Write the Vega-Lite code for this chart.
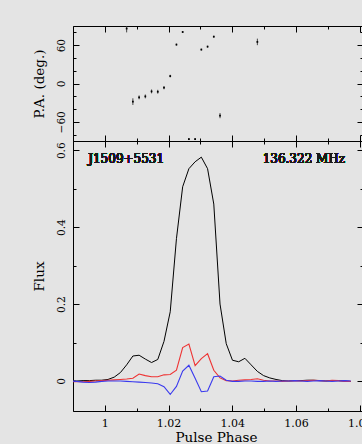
{
  "$schema": "https://vega.github.io/schema/vega-lite/v6.json",
  "background": "#e4e4e4",
  "padding": {"left": 31, "top": 25, "right": 0, "bottom": 0},
  "spacing": 0,
  "bounds": "flush",
  "config": {
    "view": {"stroke": "black", "strokeWidth": 1},
    "font": "DejaVu Serif",
    "axis": {
      "domain": false, "grid": false, "tickColor": "black", "tickWidth": 1,
      "labelColor": "black", "titleColor": "black",
      "labelFont": "DejaVu Serif", "titleFont": "DejaVu Serif",
      "titleFontWeight": "normal", "titleFontSize": 13.5,
      "labelOverlap": false, "labelFlush": false, "labelBound": false
    }
  },
  "datasets": {
    "pa": [
      {"p": 1.006836, "pa": 86, "lo": 80, "hi": 92},
      {"p": 1.008789, "pa": -28.4, "lo": -33.6, "hi": -23.2},
      {"p": 1.010742, "pa": -21.7, "lo": -24.7, "hi": -18.7},
      {"p": 1.012695, "pa": -20.2, "lo": -23.2, "hi": -17.2},
      {"p": 1.014648, "pa": -12.4, "lo": -15.4, "hi": -9.4},
      {"p": 1.016602, "pa": -12.9, "lo": -15.9, "hi": -9.9},
      {"p": 1.018555, "pa": -6.6, "lo": -9, "hi": -4.2},
      {"p": 1.020508, "pa": 11.6, "lo": 9.6, "hi": 13.6},
      {"p": 1.022461, "pa": 60.9, "lo": 59.4, "hi": 62.4},
      {"p": 1.024414, "pa": 80.6, "lo": 79.1, "hi": 82.1},
      {"p": 1.026367, "pa": -87, "lo": -88.5, "hi": -85.5},
      {"p": 1.02832, "pa": -87, "lo": -88.5, "hi": -85.5},
      {"p": 1.030273, "pa": 53.1, "lo": 51.6, "hi": 54.6},
      {"p": 1.032227, "pa": 57.7, "lo": 56.2, "hi": 59.2},
      {"p": 1.03418, "pa": 73.3, "lo": 71.8, "hi": 74.8},
      {"p": 1.036133, "pa": -50.3, "lo": -54.3, "hi": -46.3},
      {"p": 1.047852, "pa": 65.1, "lo": 60, "hi": 70.2}
    ],
    "prof": [
      {"p": 0.989258, "I": 0.001, "L": -0.002, "V": 0.0},
      {"p": 0.991211, "I": 0.0, "L": -0.002, "V": -0.001},
      {"p": 0.993164, "I": 0.001, "L": -0.002, "V": -0.003},
      {"p": 0.995117, "I": 0.001, "L": -0.001, "V": -0.004},
      {"p": 0.99707, "I": 0.002, "L": 0.0, "V": -0.003},
      {"p": 0.999023, "I": 0.002, "L": 0.001, "V": -0.001},
      {"p": 1.000977, "I": 0.004, "L": 0.002, "V": 0.0},
      {"p": 1.00293, "I": 0.010, "L": 0.003, "V": 0.0},
      {"p": 1.004883, "I": 0.022, "L": 0.004, "V": 0.0},
      {"p": 1.006836, "I": 0.042, "L": 0.005, "V": -0.001},
      {"p": 1.008789, "I": 0.065, "L": 0.007, "V": -0.002},
      {"p": 1.010742, "I": 0.067, "L": 0.018, "V": -0.003},
      {"p": 1.012695, "I": 0.057, "L": 0.014, "V": -0.004},
      {"p": 1.014648, "I": 0.048, "L": 0.011, "V": -0.005},
      {"p": 1.016602, "I": 0.056, "L": 0.011, "V": -0.007},
      {"p": 1.018555, "I": 0.103, "L": 0.016, "V": -0.015},
      {"p": 1.020508, "I": 0.18, "L": 0.017, "V": -0.035},
      {"p": 1.022461, "I": 0.37, "L": 0.028, "V": -0.014},
      {"p": 1.024414, "I": 0.505, "L": 0.087, "V": 0.026},
      {"p": 1.026367, "I": 0.552, "L": 0.096, "V": 0.041},
      {"p": 1.02832, "I": 0.57, "L": 0.040, "V": 0.007},
      {"p": 1.030273, "I": 0.582, "L": 0.058, "V": -0.028},
      {"p": 1.032227, "I": 0.552, "L": 0.071, "V": -0.026},
      {"p": 1.03418, "I": 0.46, "L": 0.028, "V": 0.011},
      {"p": 1.036133, "I": 0.20, "L": 0.008, "V": 0.013},
      {"p": 1.038086, "I": 0.097, "L": 0.001, "V": 0.002},
      {"p": 1.040039, "I": 0.054, "L": 0.0, "V": -0.001},
      {"p": 1.041992, "I": 0.050, "L": 0.002, "V": -0.001},
      {"p": 1.043945, "I": 0.059, "L": 0.003, "V": 0.0},
      {"p": 1.045898, "I": 0.042, "L": 0.004, "V": 0.0},
      {"p": 1.047852, "I": 0.025, "L": 0.006, "V": -0.001},
      {"p": 1.049805, "I": 0.014, "L": 0.002, "V": -0.001},
      {"p": 1.051758, "I": 0.008, "L": 0.0, "V": 0.0},
      {"p": 1.053711, "I": 0.004, "L": 0.0, "V": -0.001},
      {"p": 1.055664, "I": 0.001, "L": -0.001, "V": 0.0},
      {"p": 1.057617, "I": 0.0, "L": 0.0, "V": 0.0},
      {"p": 1.05957, "I": 0.001, "L": 0.001, "V": 0.001},
      {"p": 1.061523, "I": 0.001, "L": 0.0, "V": 0.0},
      {"p": 1.063477, "I": 0.002, "L": 0.001, "V": -0.001},
      {"p": 1.06543, "I": 0.002, "L": 0.002, "V": 0.0},
      {"p": 1.067383, "I": 0.001, "L": 0.001, "V": 0.001},
      {"p": 1.069336, "I": 0.0, "L": 0.0, "V": 0.0},
      {"p": 1.071289, "I": 0.001, "L": 0.002, "V": -0.001},
      {"p": 1.073242, "I": 0.001, "L": 0.001, "V": 0.0},
      {"p": 1.075195, "I": 0.0, "L": -0.001, "V": 0.001},
      {"p": 1.077148, "I": -0.001, "L": -0.001, "V": 0.0}
    ]
  },
  "vconcat": [
    {
      "width": 290, "height": 115,
      "data": {"name": "pa"},
      "layer": [
        {
          "mark": {"type": "rule", "color": "#333333", "strokeWidth": 0.9, "clip": true},
          "encoding": {
            "x": {"field": "p", "type": "quantitative",
              "scale": {"domain": [0.99, 1.081], "nice": false, "zero": false},
              "axis": {"orient": "bottom", "values": [0.99,1.0,1.01,1.02,1.03,1.04,1.05,1.06,1.07,1.08],
                "tickSize": {"condition": {"test": "round(datum.value*100)%2==0", "value": -6}, "value": -3},
                "labels": false, "title": null}},
            "y": {"field": "lo", "type": "quantitative",
              "scale": {"domain": [-90, 90], "nice": false, "zero": false},
              "axis": {"orient": "left", "values": [-80,-60,-40,-20,0,20,40,60,80],
                "tickSize": {"condition": {"test": "datum.value%60==0", "value": -6}, "value": -3},
                "labelExpr": "datum.value%60==0 ? format(datum.value,'~g') : ''",
                "labelAngle": 270, "labelAlign": "center", "labelBaseline": "alphabetic",
                "labelPadding": 14.3, "labelFontSize": 10.5,
                "title": "P.A. (deg.)", "titleAngle": 270, "titleX": -34, "titleY": 57.5,
                "titleAlign": "center", "titleBaseline": "middle"}},
            "y2": {"field": "hi"}
          }
        },
        {
          "mark": {"type": "point", "shape": "square", "size": 3, "filled": true, "color": "black", "opacity": 1, "clip": true},
          "encoding": {
            "x": {"field": "p", "type": "quantitative",
              "scale": {"domain": [0.99, 1.081], "nice": false, "zero": false},
              "axis": {"orient": "top", "values": [0.99,1.0,1.01,1.02,1.03,1.04,1.05,1.06,1.07,1.08],
                "tickSize": {"condition": {"test": "round(datum.value*100)%2==0", "value": -6}, "value": -3},
                "labels": false, "title": null}},
            "y": {"field": "pa", "type": "quantitative",
              "scale": {"domain": [-90, 90], "nice": false, "zero": false},
              "axis": {"orient": "right", "values": [-80,-60,-40,-20,0,20,40,60,80],
                "tickSize": {"condition": {"test": "datum.value%60==0", "value": -6}, "value": -3},
                "labels": false, "title": null}}
          }
        }
      ],
      "resolve": {"axis": {"x": "independent", "y": "independent"}}
    },
    {
      "width": 290, "height": 270,
      "data": {"name": "prof"},
      "layer": [
        {
          "mark": {"type": "line", "color": "black", "strokeWidth": 1, "clip": true},
          "encoding": {
            "x": {"field": "p", "type": "quantitative",
              "scale": {"domain": [0.99, 1.081], "nice": false, "zero": false},
              "axis": {"orient": "bottom", "values": [0.99,1.0,1.01,1.02,1.03,1.04,1.05,1.06,1.07,1.08],
                "tickSize": {"condition": {"test": "round(datum.value*100)%2==0", "value": -6}, "value": -3},
                "labelExpr": "round(datum.value*100)%2==0 ? format(datum.value,'.3~g') : ''",
                "labelPadding": 12.3, "labelFontSize": 11, "labelBaseline": "top",
                "title": "Pulse Phase", "titleX": 143, "titleY": 30,
                "titleAlign": "center", "titleBaseline": "alphabetic"}},
            "y": {"field": "I", "type": "quantitative",
              "scale": {"domain": [-0.078, 0.624], "nice": false, "zero": false},
              "axis": {"orient": "left", "values": [0,0.1,0.2,0.3,0.4,0.5,0.6],
                "tickSize": {"condition": {"test": "round(datum.value*10)%2==0", "value": -6}, "value": -3},
                "labelExpr": "round(datum.value*10)%2==0 ? format(datum.value,'~g') : ''",
                "labelAngle": 270, "labelAlign": "center", "labelBaseline": "alphabetic",
                "labelPadding": 14.3, "labelFontSize": 10.5,
                "title": "Flux", "titleAngle": 270, "titleX": -34, "titleY": 135,
                "titleAlign": "center", "titleBaseline": "middle"}}
          }
        },
        {
          "mark": {"type": "line", "color": "#ee3333", "strokeWidth": 1.1, "clip": true},
          "encoding": {
            "x": {"field": "p", "type": "quantitative",
              "scale": {"domain": [0.99, 1.081], "nice": false, "zero": false},
              "axis": {"orient": "top", "values": [0.99,1.0,1.01,1.02,1.03,1.04,1.05,1.06,1.07,1.08],
                "tickSize": {"condition": {"test": "round(datum.value*100)%2==0", "value": -6}, "value": -3},
                "labels": false, "title": null}},
            "y": {"field": "L", "type": "quantitative",
              "scale": {"domain": [-0.078, 0.624], "nice": false, "zero": false},
              "axis": {"orient": "right", "values": [0,0.1,0.2,0.3,0.4,0.5,0.6],
                "tickSize": {"condition": {"test": "round(datum.value*10)%2==0", "value": -6}, "value": -3},
                "labels": false, "title": null}}
          }
        },
        {
          "mark": {"type": "line", "color": "#3a3aee", "strokeWidth": 1.1, "clip": true},
          "encoding": {
            "x": {"field": "p", "type": "quantitative",
              "scale": {"domain": [0.99, 1.081], "nice": false, "zero": false}, "axis": null},
            "y": {"field": "V", "type": "quantitative",
              "scale": {"domain": [-0.078, 0.624], "nice": false, "zero": false}, "axis": null}
          }
        },
        {
          "mark": {"type": "text", "text": "J1509+5531", "align": "left", "baseline": "alphabetic", "fontSize": 12, "font": "DejaVu Serif", "fontWeight": "normal", "color": "#1a1a1a"},
          "encoding": {
            "x": {"datum": 0.99476, "type": "quantitative", "axis": null},
            "y": {"datum": 0.566, "type": "quantitative", "axis": null}
          }
        },
        {
          "mark": {"type": "text", "text": "136.322  MHz", "align": "right", "baseline": "alphabetic", "fontSize": 12, "font": "DejaVu Serif", "fontWeight": "normal", "color": "#1a1a1a"},
          "encoding": {
            "x": {"datum": 1.0754, "type": "quantitative", "axis": null},
            "y": {"datum": 0.566, "type": "quantitative", "axis": null}
          }
        }
      ],
      "resolve": {"axis": {"x": "independent", "y": "independent"}}
    }
  ]
}
